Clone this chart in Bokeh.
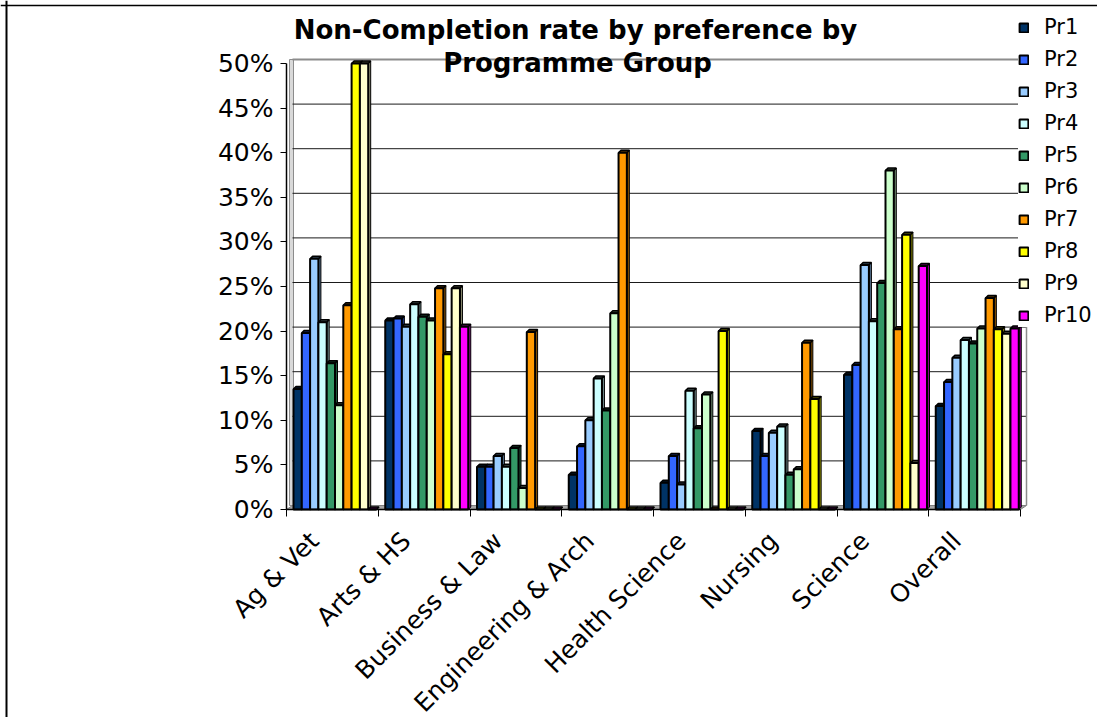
import math
from bokeh.plotting import figure
from bokeh.models import Range1d, LinearAxis, FixedTicker, NumeralTickFormatter, Span
from bokeh.core.properties import value
from bokeh.embed import file_html
from bokeh.resources import INLINE

# ---- data: non-completion rate (%) by preference, per programme group ----
groups = ["Ag & Vet", "Arts & HS", "Business & Law", "Engineering & Arch",
          "Health Science", "Nursing", "Science", "Overall"]
pr1 = [13.5, 21.2, 4.8, 3.9, 3.0, 8.8, 15.1, 11.6]
pr2 = [19.8, 21.4, 4.8, 7.1, 6.0, 6.0, 16.2, 14.3]
pr3 = [28.1, 20.5, 6.0, 10.0, 2.8, 8.6, 27.4, 17.0]
pr4 = [21.0, 23.0, 4.8, 14.7, 13.3, 9.3, 21.1, 19.0]
pr5 = [16.4, 21.6, 6.9, 11.1, 9.1, 3.9, 25.4, 18.6]
pr6 = [11.7, 21.2, 2.4, 22.0, 12.9, 4.5, 38.0, 20.3]
pr7 = [22.9, 24.8, 19.9, 40.0, 0.0, 18.7, 20.2, 23.7]
pr8 = [50.0, 17.4, 0.0, 0.0, 20.0, 12.4, 30.8, 20.2]
pr9 = [50.0, 24.8, 0.0, 0.0, 0.0, 0.0, 5.2, 19.7]
pr10 = [0.0, 20.5, 0.0, 0.0, 0.0, 0.0, 27.3, 20.3]
series = [pr1, pr2, pr3, pr4, pr5, pr6, pr7, pr8, pr9, pr10]
series_names = ["Pr1", "Pr2", "Pr3", "Pr4", "Pr5", "Pr6", "Pr7", "Pr8", "Pr9", "Pr10"]
colors = ["#003366", "#3366FF", "#99CCFF", "#CCFFFF", "#339966",
          "#CCFFCC", "#FF9900", "#FFFF00", "#FFFFCC", "#FF00FF"]
y_ticks = [0, 5, 10, 15, 20, 25, 30, 35, 40, 45, 50]
title_lines = ["Non-Completion rate by preference by", "Programme Group"]

# ---- layout (pixels) ----
W, H = 1097, 717
X0_PX, X_UNIT = 286, 91.75      # left edge of first category, width of a category
Y0_PX, Y_UNIT = 509, 892.0      # 0% baseline, pixels per 100%
FONT = "DejaVu Sans"


def px_x(px):
    return (px - X0_PX) / X_UNIT


def px_y(px):
    return (Y0_PX - px) / Y_UNIT


def shade(hex_color, f):
    r, g, b = (int(hex_color[i:i + 2], 16) for i in (1, 3, 5))
    return "#%02x%02x%02x" % (int(r * f), int(g * f), int(b * f))


n_groups = len(groups)
GROUP_PAD = 7 / X_UNIT          # gap before the first bar of a group
BAR_W = 8.3 / X_UNIT            # width of one bar
DX, DY = 2.5 / X_UNIT, 2.5 / Y_UNIT      # depth of bar side/top faces
WX, WY = 6 / X_UNIT, 4 / Y_UNIT          # depth of back wall
LABEL_SHIFT = 18 / X_UNIT                # rotated category labels sit left of centre

p = figure(width=W, height=H, output_backend="svg", toolbar_location=None,
           x_range=Range1d(px_x(0), px_x(W)), y_range=Range1d(px_y(H), px_y(0)),
           x_axis_type=None, y_axis_type=None, title_location=None,
           min_border=0, min_border_left=0, min_border_right=0,
           min_border_top=0, min_border_bottom=0)
p.outline_line_color = None
p.background_fill_color = "white"
p.border_fill_color = "white"

# floor plate and walls
p.patch([0, n_groups, n_groups + WX, WX], [0, 0, WY, WY],
        fill_color="#a6a6a6", line_color="#808080", line_width=1)
p.quad(left=[px_x(289)], right=[px_x(293)], bottom=[WY], top=[0.5 + WY],
       fill_color="#d9d9d9", line_color="#8c8c8c", line_width=1)

# back-wall gridlines
grid_y = [t / 100 + WY for t in y_ticks[1:-1]]
p.segment(x0=[WX] * len(grid_y), y0=grid_y, x1=[n_groups + WX] * len(grid_y), y1=grid_y,
          line_color="#1a1a1a", line_width=1)
p.segment(x0=[WX], y0=[0.5 + WY], x1=[n_groups + WX], y1=[0.5 + WY],
          line_color="#8c8c8c", line_width=2)
p.segment(x0=[n_groups + WX], y0=[WY], x1=[n_groups + WX], y1=[0.5 + WY],
          line_color="#8c8c8c", line_width=1.5)

# bars with a shallow 3-D side and top face
for j, (vals, name, col) in enumerate(zip(series, series_names, colors)):
    lefts = [i + GROUP_PAD + j * BAR_W for i in range(n_groups)]
    tops = [v / 100 for v in vals]
    side_xs, side_ys, top_xs, top_ys = [], [], [], []
    for l, t in zip(lefts, tops):
        r = l + BAR_W
        side_xs.append([r, r + DX, r + DX, r])
        side_ys.append([0, DY, t + DY, t])
        top_xs.append([l, r, r + DX, l + DX])
        top_ys.append([t, t, t + DY, t + DY])
    p.patches(side_xs, side_ys, fill_color=shade(col, 0.55), line_color="black", line_width=1)
    p.patches(top_xs, top_ys, fill_color=shade(col, 0.3), line_color="black", line_width=1.5)
    p.vbar(x=[l + BAR_W / 2 for l in lefts], width=BAR_W, bottom=0, top=tops,
           fill_color=col, line_color="black", line_width=2, legend_label=name)

# title
p.text(x=[px_x(575), px_x(577)], y=[px_y(29), px_y(62)], text=title_lines,
       text_font=value(FONT), text_font_style="bold", text_font_size="26px",
       text_align="center", text_baseline="middle", text_color="black")

# value axis
yaxis = LinearAxis(fixed_location=0, bounds=(0, 0.5),
                   ticker=FixedTicker(ticks=[t / 100 for t in y_ticks], minor_ticks=[]),
                   formatter=NumeralTickFormatter(format="0%"))
yaxis.axis_line_color = "black"
yaxis.axis_line_width = 1.5
yaxis.major_tick_out = 6
yaxis.major_tick_in = 0
yaxis.major_tick_line_color = "black"
yaxis.major_label_standoff = 7
yaxis.major_label_text_font = FONT
yaxis.major_label_text_font_size = "25px"
yaxis.major_label_text_color = "black"
p.add_layout(yaxis, "left")

# category axis: labels near group centres, tick marks between groups
label_pos = [i + 0.5 - LABEL_SHIFT for i in range(n_groups)]
xaxis = LinearAxis(fixed_location=0, bounds=(0, n_groups),
                   ticker=FixedTicker(ticks=label_pos, minor_ticks=list(range(n_groups + 1))))
xaxis.major_label_overrides = {c: g for c, g in zip(label_pos, groups)}
xaxis.axis_line_color = "black"
xaxis.axis_line_width = 1.5
xaxis.major_tick_out = 0
xaxis.major_tick_in = 0
xaxis.minor_tick_out = 7
xaxis.minor_tick_in = 0
xaxis.minor_tick_line_color = "black"
xaxis.major_label_orientation = math.pi / 4
xaxis.major_label_standoff = 20
xaxis.major_label_text_font = FONT
xaxis.major_label_text_font_size = "25px"
xaxis.major_label_text_color = "black"
p.add_layout(xaxis, "below")

# legend
lg = p.legend[0]
lg.location = (1018, 390)
lg.margin = 0
lg.padding = 5
lg.glyph_width = 11
lg.glyph_height = 11
lg.label_standoff = 15
lg.label_height = 24
lg.spacing = 8
lg.label_text_font = FONT
lg.label_text_font_size = "21px"
lg.label_text_color = "black"
lg.border_line_color = None
lg.background_fill_color = "white"
lg.background_fill_alpha = 1

# chart border (left and top edges)
p.add_layout(Span(location=px_x(6), dimension="height", line_color="black", line_width=2))
p.add_layout(Span(location=px_y(5), dimension="width", line_color="black", line_width=1.5))

open("out.html", "w").write(file_html(p, INLINE))
